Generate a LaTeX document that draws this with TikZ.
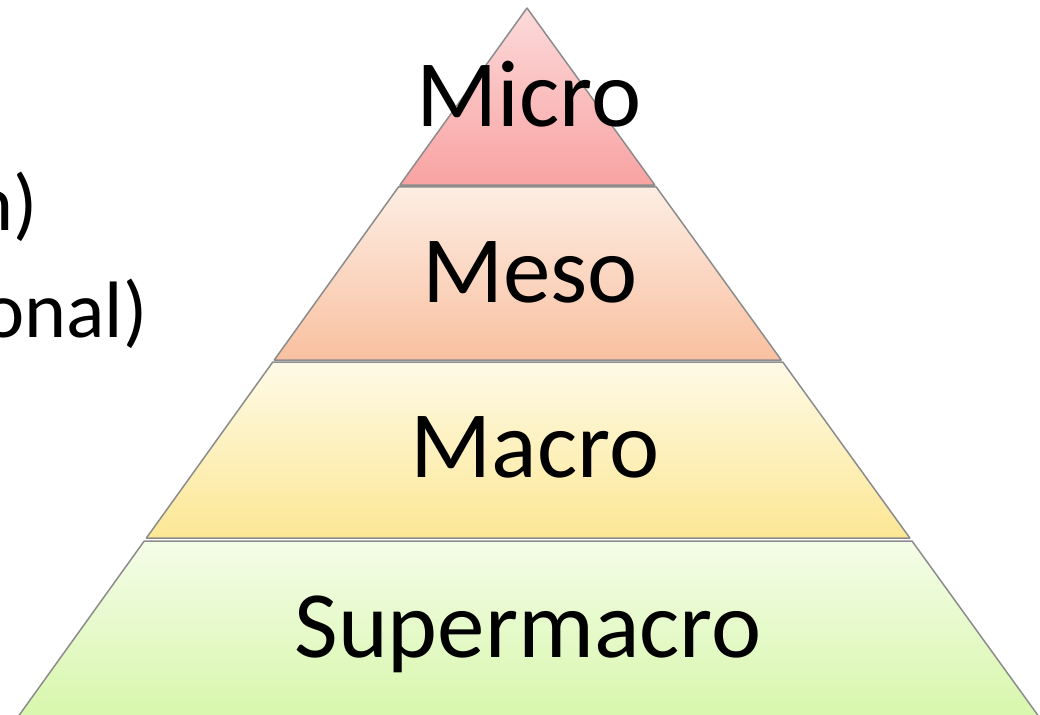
\documentclass[tikz,border=0pt]{standalone}
\usepackage{fontspec}
\setmainfont{Carlito}
\usetikzlibrary{calc}

\definecolor{microtop}{HTML}{FCDADA}
\definecolor{microbot}{HTML}{F9A2A2}
\definecolor{mesotop}{HTML}{FDEDE3}
\definecolor{mesobot}{HTML}{F9C0A0}
\definecolor{macrotop}{HTML}{FEFAE6}
\definecolor{macrobot}{HTML}{FCE794}
\definecolor{supertop}{HTML}{F4FDE8}
\definecolor{superbot}{HTML}{D6F6A8}

\begin{document}
\begin{tikzpicture}[x=0.5pt, y=-0.5pt,
    layer/.style={draw=black!45, line width=0.75pt, line join=round},
    lbl/.style={inner sep=0pt, anchor=base, font=\fontsize{47.5}{50}\selectfont},
    side/.style={inner sep=0pt, anchor=base east, font=\fontsize{40}{44}\selectfont}]
    \useasboundingbox (0,0) rectangle (1040,714);

    \coordinate (apex) at (527,8);
    \coordinate (bl) at (20,714);
    \coordinate (br) at (1037,714);

    % the four layers, top to bottom
    \path[layer, top color=microtop, bottom color=microbot]
        (apex) -- ($(apex)!0.2507!(br)$) -- ($(apex)!0.2507!(bl)$) -- cycle;
    \path[layer, top color=mesotop, bottom color=mesobot]
        ($(apex)!0.2535!(bl)$) -- ($(apex)!0.2535!(br)$)
        -- ($(apex)!0.4986!(br)$) -- ($(apex)!0.4986!(bl)$) -- cycle;
    \path[layer, top color=macrotop, bottom color=macrobot]
        ($(apex)!0.5014!(bl)$) -- ($(apex)!0.5014!(br)$)
        -- ($(apex)!0.7507!(br)$) -- ($(apex)!0.7507!(bl)$) -- cycle;
    \path[layer, top color=supertop, bottom color=superbot]
        ($(apex)!0.7550!(bl)$) -- ($(apex)!0.7550!(br)$)
        -- ($(apex)!1.02!(br)$) -- ($(apex)!1.02!(bl)$) -- cycle;

    \node[lbl] (micro) at (529,126) {Micro};
    \node[lbl] (meso) at (530,302) {Meso};
    \node[lbl] (macro) at (535,477) {Macro};
    \node[lbl] (supermacro) at (528,657) {Supermacro};

    \node[side] (line1) at (38,230) {n)};
    \node[side] (line2) at (148,337) {onal)};
\end{tikzpicture}
\end{document}
